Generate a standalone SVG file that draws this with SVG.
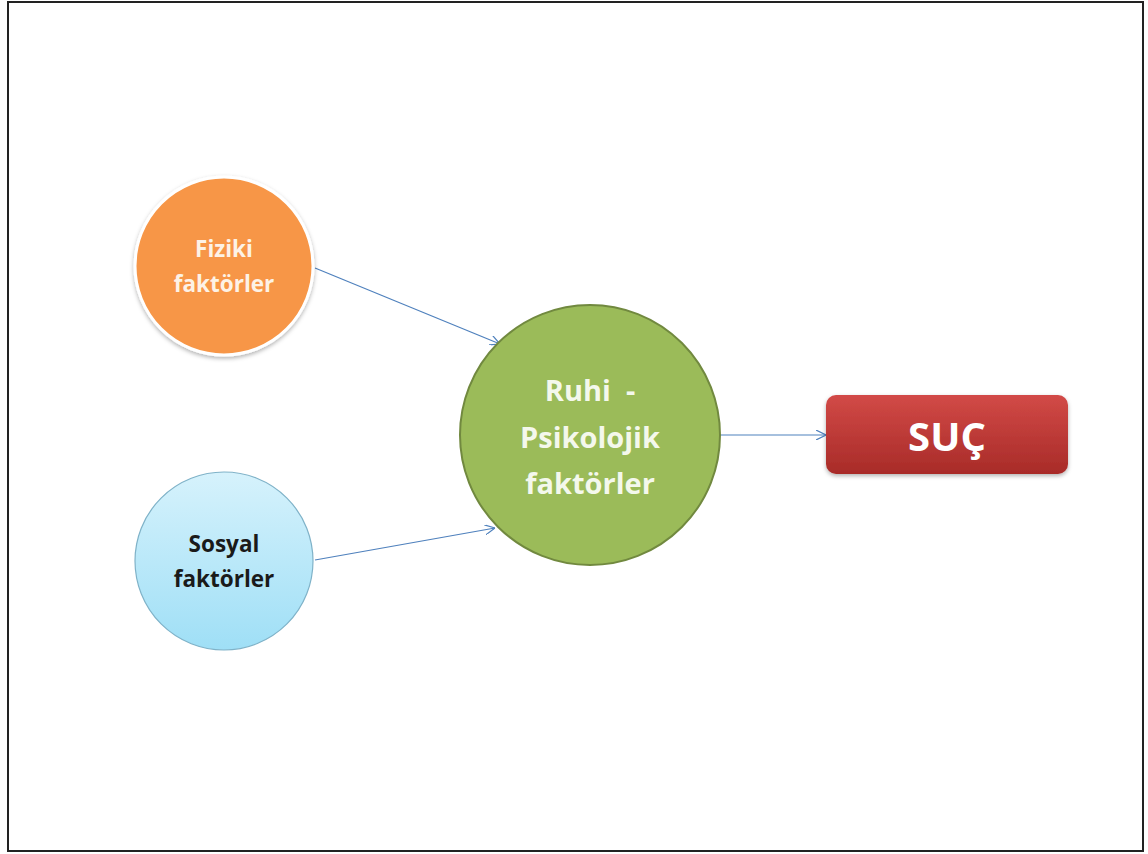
<svg xmlns="http://www.w3.org/2000/svg" width="1148" height="854" viewBox="0 0 1148 854">
<defs>
<linearGradient id="blueG" x1="0" y1="0" x2="0" y2="1">
<stop offset="0" stop-color="#d6f2fc"/>
<stop offset="1" stop-color="#9fdff6"/>
</linearGradient>
<linearGradient id="redG" x1="0" y1="0" x2="0" y2="1">
<stop offset="0" stop-color="#d24a47"/>
<stop offset="1" stop-color="#a82b28"/>
</linearGradient>
<marker id="arr" viewBox="0 0 10 10" refX="10" refY="5" markerWidth="10" markerHeight="10" markerUnits="userSpaceOnUse" orient="auto">
<path d="M0,0 L10,5 L0,10" fill="none" stroke="#4f81bd" stroke-width="1.2"/>
</marker>
<filter id="sh" x="-20%" y="-20%" width="140%" height="140%">
<feDropShadow dx="0" dy="2" stdDeviation="2" flood-color="#000" flood-opacity="0.3"/>
</filter>
</defs>
<style>
.t{font-family:"Open Sans","Liberation Sans",sans-serif;font-weight:bold;text-anchor:middle}
.c{fill:none;stroke:#4f81bd;stroke-width:1.2;marker-end:url(#arr)}
</style>
<rect x="0" y="0" width="1148" height="854" fill="#fff"/>
<rect x="8" y="2" width="1135" height="849" fill="none" stroke="#222" stroke-width="2"/>
<g id="connectors">
<line class="c" x1="315" y1="268" x2="500" y2="344"/>
<line class="c" x1="315" y1="560" x2="495" y2="528"/>
<line class="c" x1="720" y1="435" x2="826" y2="435"/>
</g>
<g id="fiziki">
<circle cx="224" cy="266" r="89" fill="#f79646" stroke="#fff" stroke-width="3" filter="url(#sh)"/>
<text class="t" x="224" y="257" font-size="22.5" fill="#fdf2e6">Fiziki</text>
<text class="t" x="224" y="292" font-size="22.5" fill="#fdf2e6">faktörler</text>
</g>
<g id="sosyal">
<circle cx="224" cy="561" r="89" fill="url(#blueG)" stroke="#7fb2c8" stroke-width="1.2"/>
<text class="t" x="224" y="552" font-size="22.5" fill="#1a1a1a">Sosyal</text>
<text class="t" x="224" y="587" font-size="22.5" fill="#1a1a1a">faktörler</text>
</g>
<g id="ruhi">
<circle cx="590" cy="435" r="130" fill="#9bbb59" stroke="#71893f" stroke-width="2"/>
<text class="t" x="590" y="401" font-size="29" fill="#f4f8ec" xml:space="preserve">Ruhi  -</text>
<text class="t" x="590" y="448" font-size="29" fill="#f4f8ec">Psikolojik</text>
<text class="t" x="590" y="494" font-size="29" fill="#f4f8ec">faktörler</text>
</g>
<g id="suc">
<rect x="826" y="395" width="242" height="79" rx="10" fill="url(#redG)" filter="url(#sh)"/>
<text class="t" x="947" y="451" font-size="40" fill="#fff">SUÇ</text>
</g>
</svg>
